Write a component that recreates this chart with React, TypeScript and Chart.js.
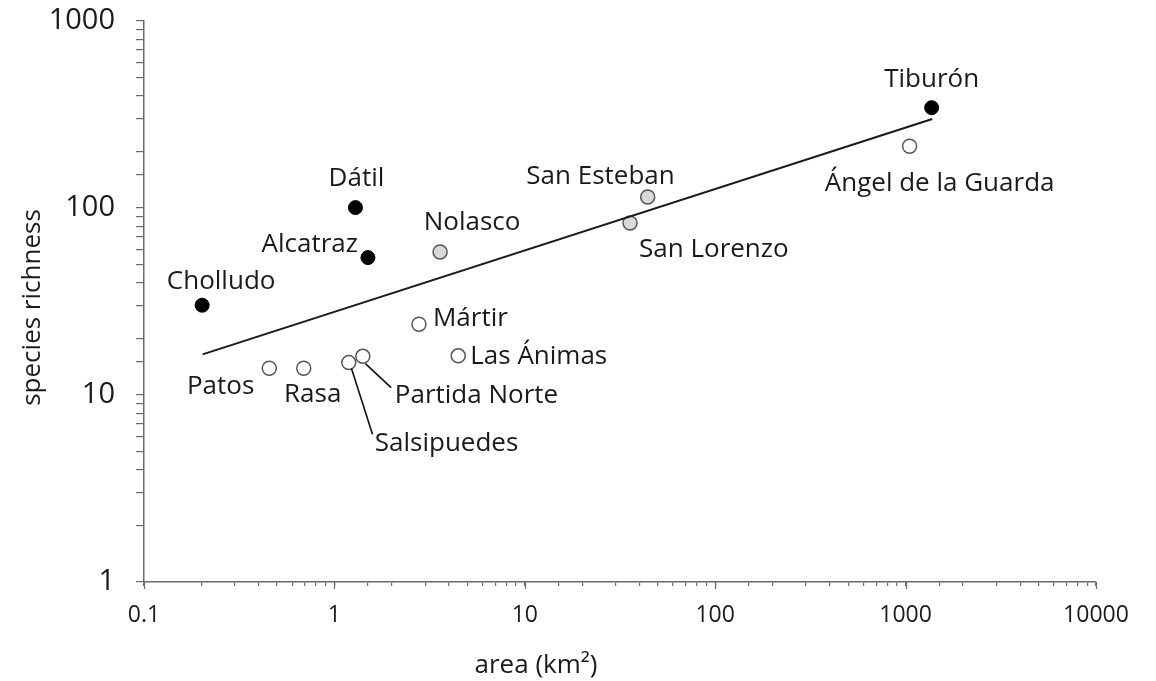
import { useEffect, useRef } from "react";
import { Chart, registerables } from "chart.js";

Chart.register(...registerables);

// ---- data ----
const blackIslands = ["Cholludo", "Dátil", "Alcatraz", "Tiburón"];
const blackArea = [0.202, 1.29, 1.5, 1370];
const blackRichness = [30.2, 100.5, 54.3, 344];

const greyIslands = ["Nolasco", "San Esteban", "San Lorenzo"];
const greyArea = [3.59, 44.2, 35.7];
const greyRichness = [58.2, 114.5, 83.1];

const openIslands = ["Ángel de la Guarda", "Mártir", "Las Ánimas", "Patos", "Rasa", "Salsipuedes", "Partida Norte"];
const openArea = [1050, 2.78, 4.47, 0.455, 0.69, 1.19, 1.41];
const openRichness = [214, 23.9, 16.2, 13.9, 13.9, 14.9, 16.1];

const fitArea = [0.203, 1380];
const fitRichness = [16.5, 299];

const xTickLabels = ["0.1", "1", "10", "100", "1000", "10000"];
const yTickLabels = ["1", "10", "100", "1000"];

const xTitle = "area (km²)";
const yTitle = "species richness";

// ---- label placement (style, relative to each point) ----
type LabelStyle = { dx: number; dy: number; align: CanvasTextAlign; leader?: [number, number, number, number] };
const labelStyle: Record<string, LabelStyle> = {
  "Cholludo": { dx: 19, dy: -16, align: "center" },
  "Dátil": { dx: 1, dy: -22, align: "center" },
  "Alcatraz": { dx: -10, dy: -6, align: "right" },
  "Tiburón": { dx: 0, dy: -21, align: "center" },
  "Nolasco": { dx: 32, dy: -22, align: "center" },
  "San Esteban": { dx: 27, dy: -13, align: "right" },
  "San Lorenzo": { dx: 9, dy: 34, align: "left" },
  "Ángel de la Guarda": { dx: 30, dy: 45, align: "center" },
  "Mártir": { dx: 14, dy: 2, align: "left" },
  "Las Ánimas": { dx: 12, dy: 8, align: "left" },
  "Patos": { dx: -15, dy: 26, align: "right" },
  "Rasa": { dx: 9, dy: 34, align: "center" },
  "Salsipuedes": { dx: 26, dy: 88, align: "left", leader: [2.7, 6, 23.7, 71.7] },
  "Partida Norte": { dx: 32, dy: 47, align: "left", leader: [2.6, 7.3, 28.3, 31.3] },
};

const FONT = "'Open Sans', 'Noto Sans', sans-serif";
const TEXT = "#1a1a1a";
const AXIS = "#6a6a6a";

function isDecade(v: number) {
  const l = Math.log10(v);
  return Math.abs(l - Math.round(l)) < 1e-9;
}

const labelPlugin = {
  id: "islandLabels",
  afterDatasetsDraw(chart: any) {
    const ctx: CanvasRenderingContext2D = chart.ctx;
    const xs = chart.scales.x;
    const ys = chart.scales.y;
    const ca = chart.chartArea;

    // longer major tick marks on the x axis
    ctx.save();
    ctx.strokeStyle = AXIS;
    ctx.lineWidth = 1.2;
    xTickLabels.forEach((t) => {
      const px = Math.round(xs.getPixelForValue(Number(t))) + 0.5;
      ctx.beginPath();
      ctx.moveTo(px, ca.bottom);
      ctx.lineTo(px, ca.bottom + 7);
      ctx.stroke();
    });
    ctx.restore();

    const groups: [string[], number[], number[]][] = [
      [blackIslands, blackArea, blackRichness],
      [greyIslands, greyArea, greyRichness],
      [openIslands, openArea, openRichness],
    ];
    ctx.save();
    ctx.font = `26px ${FONT}`;
    ctx.fillStyle = TEXT;
    ctx.strokeStyle = "#111";
    ctx.lineWidth = 1.6;
    ctx.textBaseline = "alphabetic";
    for (const [names, ax, ry] of groups) {
      names.forEach((name, i) => {
        const px = xs.getPixelForValue(ax[i]);
        const py = ys.getPixelForValue(ry[i]);
        const s = labelStyle[name];
        if (!s) return;
        if (s.leader) {
          ctx.beginPath();
          ctx.moveTo(px + s.leader[0], py + s.leader[1]);
          ctx.lineTo(px + s.leader[2], py + s.leader[3]);
          ctx.stroke();
        }
        ctx.textAlign = s.align;
        ctx.fillText(name, px + s.dx, py + s.dy);
      });
    }
    // axis titles
    ctx.textAlign = "center";
    ctx.font = `26px ${FONT}`;
    ctx.fillText(xTitle, ca.left + 392, 673);
    ctx.save();
    ctx.translate(40, (ca.top + ca.bottom) / 2 + 6);
    ctx.rotate(-Math.PI / 2);
    ctx.fillText(yTitle, 0, 0);
    ctx.restore();
    ctx.restore();
  },
};

export default function App() {
  const ref = useRef<HTMLCanvasElement | null>(null);

  useEffect(() => {
    document.body.style.margin = "0";
    const canvas = ref.current;
    if (!canvas) return;
    const chart = new Chart(canvas, {
      type: "scatter",
      data: {
        datasets: [
          {
            label: "fit",
            data: fitArea.map((x, i) => ({ x, y: fitRichness[i] })),
            showLine: true,
            borderColor: "#1a1a1a",
            borderWidth: 2,
            pointRadius: 0,
            fill: false,
          },
          {
            label: "black",
            data: blackArea.map((x, i) => ({ x, y: blackRichness[i] })),
            backgroundColor: "#000",
            borderColor: "#000",
            pointRadius: 7,
            pointBorderWidth: 1,
          },
          {
            label: "grey",
            data: greyArea.map((x, i) => ({ x, y: greyRichness[i] })),
            backgroundColor: "#d9d9d9",
            borderColor: "#555",
            pointRadius: 7,
            pointBorderWidth: 1.5,
          },
          {
            label: "open",
            data: openArea.map((x, i) => ({ x, y: openRichness[i] })),
            backgroundColor: "#fff",
            borderColor: "#555",
            pointRadius: 7,
            pointBorderWidth: 1.5,
          },
        ],
      },
      options: {
        animation: false,
        responsive: false,
        layout: { padding: { top: 21, right: 60, left: 0, bottom: 0 } },
        plugins: { legend: { display: false }, tooltip: { enabled: false } },
        scales: {
          x: {
            type: "logarithmic",
            position: "bottom",
            min: 0.1,
            max: 10000,
            grid: { display: true, drawOnChartArea: false, drawTicks: true, tickLength: 4, color: AXIS, lineWidth: 1.2 },
            border: { display: true, color: AXIS, width: 1.5 },
            ticks: {
              autoSkip: false,
              maxRotation: 0,
              padding: 16,
              color: TEXT,
              font: { family: FONT, size: 23 },
              callback: (v: any) => {
                const n = Number(v);
                if (!isDecade(n)) return "";
                const idx = Math.round(Math.log10(n)) + 1;
                return xTickLabels[idx] ?? "";
              },
            },
            afterFit: (s: any) => {
              s.height = 99;
              s.paddingLeft = 0;
              s.paddingRight = 0;
            },
          },
          y: {
            type: "logarithmic",
            position: "left",
            min: 1,
            max: 1000,
            grid: { display: true, drawOnChartArea: false, drawTicks: true, tickLength: 8, color: AXIS, lineWidth: 1.2 },
            border: { display: true, color: AXIS, width: 1.5 },
            ticks: {
              autoSkip: false,
              padding: 21,
              color: TEXT,
              font: { family: FONT, size: 29 },
              callback: (v: any) => {
                const n = Number(v);
                if (!isDecade(n)) return "";
                const idx = Math.round(Math.log10(n));
                return yTickLabels[idx] ?? "";
              },
            },
            afterFit: (s: any) => {
              s.width = 144;
              s.paddingTop = 0;
              s.paddingBottom = 0;
            },
          },
        },
      },
      plugins: [labelPlugin],
    });
    return () => chart.destroy();
  }, []);

  return (
    <div style={{ width: 1156, height: 681, background: "#fff" }}>
      <canvas ref={ref} width={1156} height={681} style={{ display: "block" }} />
    </div>
  );
}
